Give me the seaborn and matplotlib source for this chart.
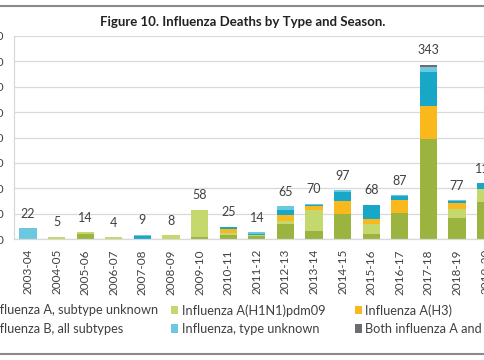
import numpy as np
import pandas as pd
import matplotlib.pyplot as plt
from matplotlib.lines import Line2D
import seaborn as sns

seasons = ["2003-04", "2004-05", "2005-06", "2006-07", "2007-08", "2008-09",
           "2009-10", "2010-11", "2011-12", "2012-13", "2013-14", "2014-15",
           "2015-16", "2016-17", "2017-18", "2018-19", "2019-20"]

# deaths per season (bottom to top of each stack)
a_unknown = [0, 0, 10, 0, 0, 0, 4, 8, 6, 30, 16, 49, 10, 52, 198, 41, 74]
a_h1n1 = [0, 5, 4, 4, 0, 8, 54, 5, 3, 5, 41, 0, 20, 0, 0, 18, 24]
a_h3 = [0, 0, 0, 0, 0, 0, 0, 8, 0, 12, 8, 27, 9, 26, 64, 12, 0]
b_all = [0, 0, 0, 0, 7, 0, 0, 3, 2, 10, 3, 16, 28, 8, 66, 4, 12]
type_unknown = [22, 0, 0, 0, 2, 0, 0, 1, 3, 8, 2, 5, 1, 1, 10, 2, 0]
both_ab = [0, 0, 0, 0, 0, 0, 0, 0, 0, 0, 0, 0, 0, 0, 5, 0, 0]

series = ["Influenza A, subtype unknown", "Influenza A(H1N1)pdm09", "Influenza A(H3)",
          "Influenza B, all subtypes", "Influenza, type unknown",
          "Both influenza A and influenza B"]
colors = ["#9AB43F", "#C5D86D", "#F9B81C", "#19A7C8", "#6BC8E0", "#6A6E70"]

df = pd.DataFrame({"season": seasons})
for name, vals in zip(series, [a_unknown, a_h1n1, a_h3, b_all, type_unknown, both_ab]):
    df[name] = vals
cum = df[series].cumsum(axis=1)

sns.set_style("white")
plt.rcParams["font.family"] = ["Lato", "DejaVu Sans"]

fig = plt.figure(figsize=(4.85, 3.6), dpi=100)
ax = fig.add_axes([0.0282, 0.3353, 1.0027, 0.5655])

# stacked bars: draw the cumulative totals from the top layer down
for name, col in reversed(list(zip(series, colors))):
    sns.barplot(x=df["season"], y=cum[name], color=col, width=0.6,
                label=name, ax=ax, saturation=1, linewidth=0)

ax.bar_label(ax.containers[0], labels=[str(v) for v in cum[series[-1]]],
             padding=6, fontsize=9, color="#404040")

ax.set_ylim(0, 400)
ax.set_yticks(np.arange(0, 401, 50))
ax.set_xlim(-0.5, len(seasons) - 0.5)
ax.grid(axis="y", color="#d9d9d9", linewidth=0.9)
ax.set_axisbelow(True)
ax.set_xlabel("")
ax.set_ylabel("")
ax.tick_params(axis="x", rotation=90, labelsize=8.5, labelcolor="#404040", length=0, pad=7)
ax.tick_params(axis="y", labelsize=8.5, labelcolor="#404040", length=0, pad=7)
sns.despine(ax=ax, top=True, right=True)
for side in ["left", "bottom"]:
    ax.spines[side].set_color("#d9d9d9")
    ax.spines[side].set_linewidth(0.9)

handles, labels = ax.get_legend_handles_labels()
if ax.get_legend() is not None:
    ax.get_legend().remove()
lookup = dict(zip(labels, handles))
columns = [(series[0], series[3]), (series[1], series[4]), (series[2], series[5])]
for xpos, pair in zip([-0.058, 0.339, 0.718], columns):
    fig.legend([lookup[p] for p in pair], list(pair), loc="center left",
               bbox_to_anchor=(xpos, 0.1125), frameon=False, fontsize=9.2,
               labelcolor="#404040", handlelength=0.6, handleheight=0.6,
               handletextpad=0.25, borderpad=0, labelspacing=0.5)

fig.text(0.5, 1 - 22 / 360, "Figure 10. Influenza Deaths by Type and Season.",
         ha="center", va="center", fontsize=9.5, fontweight="bold", color="#222222")
fig.add_artist(Line2D([0, 1], [1 - 5.5 / 360] * 2, color="#8a8a8a", linewidth=1.5))
fig.add_artist(Line2D([0, 1], [1 - 354 / 360] * 2, color="#8a8a8a", linewidth=1.5))

fig.savefig("out.png", dpi=100)
